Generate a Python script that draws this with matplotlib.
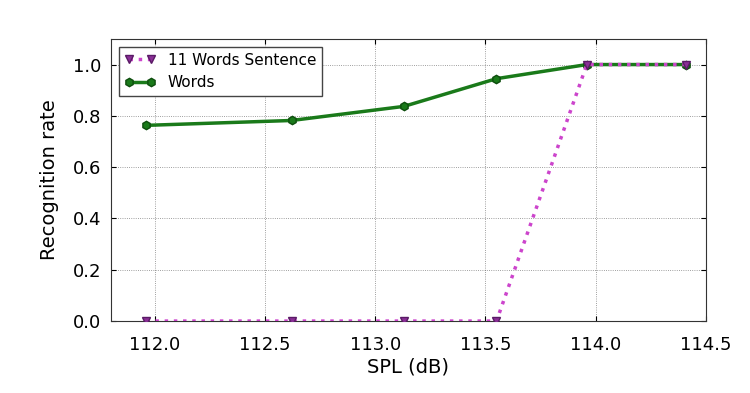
import matplotlib
matplotlib.use("Agg")
import matplotlib.pyplot as plt

spl = [111.96, 112.62, 113.13, 113.55, 113.96, 114.41]
sentence_rate = [0.0, 0.0, 0.0, 0.0, 1.0, 1.0]
words_rate = [0.763, 0.782, 0.837, 0.945, 1.0, 1.0]

fig = plt.figure(figsize=(7.5, 3.93), dpi=100)
ax = fig.add_axes([0.148, 0.183, 0.793, 0.718])

ax.plot(spl, words_rate, color="#1a7a1a", linewidth=2.5, marker="h",
        markersize=6, markerfacecolor="#1a7a1a", markeredgecolor="#0d4d0d",
        label="Words", zorder=2)
ax.plot(spl, sentence_rate, color="#cc44cc", linewidth=2.5, linestyle=":",
        marker="v", markersize=6, markerfacecolor="#8a2f96",
        markeredgecolor="#5a1a66", label="11 Words Sentence", zorder=3)

ax.set_xlim(111.8, 114.5)
ax.set_ylim(0, 1.1)
ax.set_xticks([112.0, 112.5, 113.0, 113.5, 114.0, 114.5])
ax.set_yticks([0.0, 0.2, 0.4, 0.6, 0.8, 1.0])
ax.grid(True, linestyle=":", color="k", linewidth=0.6, alpha=0.5)
ax.tick_params(direction="in", labelsize=13, top=True, right=True)
ax.tick_params(axis="x", pad=11)
ax.tick_params(axis="y", pad=7)
for s in ax.spines.values():
    s.set_color("#333333")
ax.set_xlabel("SPL (dB)", fontsize=14, labelpad=2)
ax.set_ylabel("Recognition rate", fontsize=14, labelpad=10)

h, l = ax.get_legend_handles_labels()
ax.legend(h[::-1], l[::-1], loc="upper left", fontsize=11, fancybox=False,
          edgecolor="#444444", framealpha=1, handlelength=2.0, numpoints=2,
          borderaxespad=0.5)

fig.savefig("out.png", dpi=100)
